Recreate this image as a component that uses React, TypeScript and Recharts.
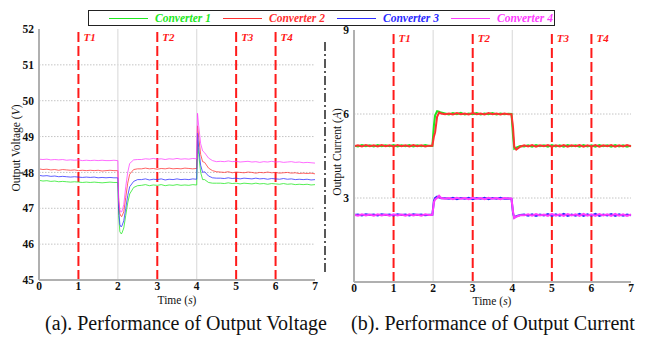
import React from 'react';
import { LineChart, Line, XAxis, YAxis, ReferenceLine } from 'recharts';

const FONT = "'Liberation Serif', 'Times New Roman', serif";

// ---------- Voltage chart data ----------
const voltTime = [
  0, 0.1, 0.2, 0.3, 0.4, 0.5, 0.6, 0.7, 0.8, 0.9, 1.0, 1.1, 1.2, 1.3, 1.4, 1.5, 1.6, 1.7, 1.8, 1.9, 1.99,
  2.0, 2.02, 2.05, 2.08, 2.1, 2.15, 2.2, 2.25, 2.3, 2.4, 2.5,
  2.6, 2.7, 2.8, 2.9, 3.0, 3.1, 3.2, 3.3, 3.4, 3.5, 3.6, 3.7, 3.8, 3.9, 3.99,
  4.0, 4.02, 4.05, 4.1, 4.15, 4.2, 4.3, 4.4, 4.5,
  4.6, 4.7, 4.8, 4.9, 5.0, 5.1, 5.2, 5.3, 5.4, 5.5, 5.6, 5.7, 5.8, 5.9, 6.0, 6.1, 6.2, 6.3, 6.4, 6.5, 6.6, 6.7, 6.8, 6.9, 7.0,
];
const voltConv1 = [
  47.78, 47.76, 47.77, 47.75, 47.76, 47.74, 47.75, 47.74, 47.73, 47.74, 47.73, 47.72, 47.73, 47.72, 47.73, 47.72, 47.71, 47.72, 47.73, 47.72, 47.72,
  47.72, 46.8, 46.35, 46.29, 46.3, 46.45, 46.8, 47.15, 47.4, 47.58, 47.63,
  47.64, 47.66, 47.63, 47.65, 47.64, 47.66, 47.63, 47.65, 47.64, 47.66, 47.64, 47.65, 47.64, 47.66, 47.65,
  47.65, 48.9, 48.5, 48.0, 47.8, 47.8, 47.72, 47.7, 47.7,
  47.70, 47.69, 47.71, 47.69, 47.70, 47.68, 47.70, 47.69, 47.68, 47.70, 47.68, 47.69, 47.67, 47.69, 47.68, 47.67, 47.69, 47.67, 47.68, 47.66, 47.67, 47.66, 47.67, 47.65, 47.66,
];
const voltConv2 = [
  48.10, 48.08, 48.09, 48.07, 48.08, 48.06, 48.08, 48.07, 48.06, 48.07, 48.05, 48.06, 48.05, 48.06, 48.05, 48.06, 48.04, 48.05, 48.06, 48.05, 48.05,
  48.05, 47.3, 46.85, 46.78, 46.77, 46.9, 47.3, 47.7, 47.95, 48.08, 48.1,
  48.10, 48.12, 48.10, 48.11, 48.09, 48.11, 48.10, 48.12, 48.10, 48.11, 48.10, 48.12, 48.11, 48.10, 48.11,
  48.1, 49.3, 49.0, 48.5, 48.3, 48.28, 48.12, 48.05, 48.02,
  48.01, 48.00, 48.02, 47.99, 48.01, 48.00, 47.99, 48.01, 48.00, 47.98, 48.00, 47.99, 48.01, 47.99, 48.00, 47.98, 47.99, 48.00, 47.98, 47.99, 47.97, 47.98, 47.97, 47.98, 47.96,
];
const voltConv3 = [
  47.92, 47.90, 47.91, 47.89, 47.90, 47.88, 47.89, 47.88, 47.87, 47.88, 47.87, 47.86, 47.87, 47.86, 47.87, 47.85, 47.86, 47.85, 47.86, 47.85, 47.85,
  47.85, 47.0, 46.55, 46.48, 46.5, 46.65, 47.0, 47.35, 47.6, 47.75, 47.8,
  47.80, 47.82, 47.79, 47.81, 47.80, 47.82, 47.79, 47.81, 47.80, 47.82, 47.80, 47.81, 47.80, 47.82, 47.81,
  47.81, 49.1, 48.7, 48.2, 48.0, 48.02, 47.9, 47.85, 47.84,
  47.84, 47.83, 47.85, 47.83, 47.84, 47.82, 47.84, 47.83, 47.82, 47.84, 47.82, 47.83, 47.81, 47.83, 47.82, 47.81, 47.83, 47.81, 47.82, 47.80, 47.81, 47.80, 47.81, 47.79, 47.80,
];
const voltConv4 = [
  48.37, 48.36, 48.37, 48.35, 48.36, 48.35, 48.36, 48.34, 48.35, 48.34, 48.35, 48.33, 48.34, 48.33, 48.34, 48.33, 48.34, 48.33, 48.33, 48.34, 48.33,
  48.33, 47.2, 46.95, 46.9, 46.9, 47.1, 47.6, 48.0, 48.25, 48.35, 48.36,
  48.36, 48.38, 48.37, 48.39, 48.37, 48.38, 48.36, 48.38, 48.37, 48.39, 48.37, 48.38, 48.37, 48.39, 48.38,
  48.38, 49.65, 49.3, 48.8, 48.6, 48.55, 48.4, 48.33, 48.3,
  48.31, 48.30, 48.32, 48.30, 48.31, 48.29, 48.30, 48.31, 48.29, 48.30, 48.28, 48.30, 48.29, 48.31, 48.29, 48.30, 48.28, 48.29, 48.30, 48.28, 48.29, 48.27, 48.28, 48.27, 48.26,
];

// ---------- Current chart data ----------
const curTime = [
  0, 0.1, 0.2, 0.3, 0.4, 0.5, 0.6, 0.7, 0.8, 0.9, 1.0, 1.1, 1.2, 1.3, 1.4, 1.5, 1.6, 1.7, 1.8, 1.9,
  1.98, 2.02, 2.05, 2.1, 2.15, 2.2,
  2.3, 2.4, 2.5, 2.6, 2.7, 2.8, 2.9, 3.0, 3.1, 3.2, 3.3, 3.4, 3.5, 3.6, 3.7, 3.8, 3.9,
  3.98, 4.02, 4.05, 4.1, 4.2,
  4.3, 4.4, 4.5, 4.6, 4.7, 4.8, 4.9, 5.0, 5.1, 5.2, 5.3, 5.4, 5.5, 5.6, 5.7, 5.8, 5.9, 6.0, 6.1, 6.2, 6.3, 6.4, 6.5, 6.6, 6.7, 6.8, 6.9, 7.0,
];
const curConv1 = [
  4.87, 4.84, 4.89, 4.85, 4.88, 4.84, 4.89, 4.85, 4.88, 4.85, 4.89, 4.84, 4.88, 4.85, 4.89, 4.84, 4.88, 4.85, 4.89, 4.86,
  4.86, 5.6, 5.95, 6.1, 6.08, 6.05,
  6.02, 5.98, 6.03, 5.99, 6.04, 5.98, 6.02, 5.99, 6.03, 5.98, 6.02, 5.99, 6.03, 5.98, 6.02, 5.99, 6.01,
  6.0, 5.2, 4.76, 4.8, 4.86,
  4.84, 4.88, 4.83, 4.89, 4.85, 4.88, 4.83, 4.89, 4.84, 4.88, 4.83, 4.89, 4.85, 4.88, 4.83, 4.89, 4.84, 4.88, 4.83, 4.89, 4.85, 4.88, 4.83, 4.89, 4.84, 4.88, 4.83, 4.87,
];
const curConv2 = [
  4.85, 4.88, 4.84, 4.89, 4.85, 4.88, 4.84, 4.89, 4.85, 4.88, 4.84, 4.89, 4.85, 4.88, 4.84, 4.89, 4.85, 4.88, 4.84, 4.87,
  4.87, 5.2, 5.35, 5.9, 6.05, 6.02,
  5.99, 6.02, 5.98, 6.03, 5.99, 6.02, 5.98, 6.03, 5.99, 6.02, 5.98, 6.03, 5.99, 6.02, 5.98, 6.02, 5.99,
  5.99, 5.5, 4.83, 4.73, 4.83,
  4.88, 4.84, 4.89, 4.83, 4.88, 4.85, 4.89, 4.83, 4.88, 4.84, 4.89, 4.83, 4.88, 4.85, 4.89, 4.83, 4.88, 4.84, 4.89, 4.83, 4.88, 4.85, 4.89, 4.83, 4.88, 4.84, 4.89, 4.85,
];
const curConv3 = [
  2.39, 2.41, 2.38, 2.42, 2.39, 2.41, 2.38, 2.42, 2.39, 2.41, 2.38, 2.42, 2.39, 2.41, 2.38, 2.42, 2.39, 2.41, 2.38, 2.40,
  2.4, 2.9, 3.0, 3.05, 3.02, 2.99,
  2.99, 2.97, 3.01, 2.96, 3.00, 2.97, 3.01, 2.96, 3.00, 2.97, 3.01, 2.96, 3.00, 2.97, 3.01, 2.97, 2.98,
  2.97, 2.45, 2.3, 2.35, 2.39,
  2.41, 2.37, 2.42, 2.36, 2.41, 2.38, 2.43, 2.36, 2.42, 2.37, 2.43, 2.36, 2.41, 2.37, 2.43, 2.36, 2.42, 2.37, 2.43, 2.36, 2.41, 2.38, 2.43, 2.36, 2.42, 2.37, 2.41, 2.38,
];
const curConv4 = [
  2.40, 2.37, 2.42, 2.38, 2.41, 2.37, 2.42, 2.38, 2.41, 2.37, 2.42, 2.38, 2.41, 2.37, 2.42, 2.38, 2.41, 2.37, 2.42, 2.39,
  2.4, 2.85, 2.95, 3.0, 3.08, 3.0,
  2.97, 3.00, 2.96, 3.01, 2.97, 3.00, 2.96, 3.01, 2.97, 3.00, 2.96, 3.01, 2.97, 3.00, 2.96, 3.00, 2.98,
  2.98, 2.5, 2.28, 2.33, 2.38,
  2.38, 2.42, 2.37, 2.43, 2.38, 2.41, 2.36, 2.43, 2.37, 2.42, 2.36, 2.43, 2.38, 2.42, 2.36, 2.43, 2.37, 2.42, 2.36, 2.43, 2.38, 2.42, 2.36, 2.43, 2.37, 2.42, 2.36, 2.41,
];

// ---------- Shared labels ----------
const seriesNames = ['Converter 1', 'Converter 2', 'Converter 3', 'Converter 4'];
const seriesKeys = ['c1', 'c2', 'c3', 'c4'];
const seriesColors = ['#1ee81e', '#ff3030', '#2a2aff', '#ff3cff'];
const eventTimes = [1, 3, 5, 6];
const eventLabels = ['T1', 'T2', 'T3', 'T4'];
const timeTicks = [0, 1, 2, 3, 4, 5, 6, 7];
const timeGrid = [2, 4];
const voltTicks = [45, 46, 47, 48, 49, 50, 51, 52];
const voltGrid = [46, 47, 48, 49, 50, 51];
const curTicks = [3, 6, 9];
const curGrid = [3, 6];
const captions = ['(a). Performance of Output Voltage', '(b). Performance of Output Current'];

const voltData = voltTime.map((t, i) => ({
  t, c1: voltConv1[i], c2: voltConv2[i], c3: voltConv3[i], c4: voltConv4[i],
}));
const curData = curTime.map((t, i) => ({
  t, c1: curConv1[i], c2: curConv2[i], c3: curConv3[i], c4: curConv4[i],
}));

const EventLabel = (props: any) => {
  const { viewBox, value } = props;
  if (!viewBox) return null;
  return (
    <text x={viewBox.x + 5} y={viewBox.y + 12} fill="#ff1a1a" fontFamily={FONT}
      fontSize={11} fontWeight="bold" fontStyle="italic">{value}</text>
  );
};

const tickStyle = { fontFamily: FONT, fontSize: 11.5, fontWeight: 'bold', fill: '#111' } as any;

function renderCommon(gridY: number[]) {
  return [
    ...gridY.map((y) => (
      <ReferenceLine key={'gy' + y} y={y} stroke="#c4c4c4" strokeDasharray="1.5 1.5" strokeWidth={1} />
    )),
    ...timeGrid.map((x) => (
      <ReferenceLine key={'gx' + x} x={x} stroke="#dedede" strokeWidth={1.2} />
    )),
  ];
}

function renderEvents() {
  return eventTimes.map((x, i) => (
    <ReferenceLine key={'ev' + x} x={x} stroke="#ff1a1a" strokeWidth={2} strokeDasharray="10 4"
      label={<EventLabel value={eventLabels[i]} />} />
  ));
}

const axisLine = { stroke: '#b0b0b0', strokeWidth: 2 };

export default function App() {
  return (
    <div style={{ position: 'absolute', left: 0, top: 0, width: 658, height: 339, background: '#fff', fontFamily: FONT, overflow: 'hidden' }}>
      {/* Voltage chart */}
      <div style={{ position: 'absolute', left: 0, top: 0 }}>
        <LineChart width={330} height={310} data={voltData} margin={{ top: 29, right: 15, bottom: 0, left: 0 }}>
          <XAxis dataKey="t" type="number" domain={[0, 7]} ticks={timeTicks} tickLine={false} tickSize={0}
            tickMargin={2} height={30} axisLine={axisLine} tick={tickStyle} />
          <YAxis type="number" domain={[45, 52]} ticks={voltTicks} tickLine={false} tickSize={0}
            tickMargin={5} width={39} axisLine={axisLine} tick={tickStyle} />
          {renderCommon(voltGrid)}
          {renderEvents()}
          {seriesKeys.map((k, i) => (
            <Line key={k} type="linear" dataKey={k} stroke={seriesColors[i]} strokeWidth={1} strokeOpacity={0.75}
              dot={false} isAnimationActive={false} />
          ))}
        </LineChart>
      </div>
      {/* Current chart */}
      <div style={{ position: 'absolute', left: 330, top: 0 }}>
        <LineChart width={328} height={310} data={curData} margin={{ top: 30, right: 27, bottom: 0, left: 0 }}>
          <XAxis dataKey="t" type="number" domain={[0, 7]} ticks={timeTicks} tickLine={false} tickSize={0}
            tickMargin={2} height={28} axisLine={axisLine} tick={tickStyle} />
          <YAxis type="number" domain={[0, 9]} ticks={curTicks} tickLine={false} tickSize={0}
            tickMargin={5} width={24} axisLine={axisLine} tick={tickStyle} />
          {renderCommon(curGrid)}
          {renderEvents()}
          {[2, 3, 0, 1].map((i) => (
            <Line key={seriesKeys[i]} type="linear" dataKey={seriesKeys[i]} stroke={seriesColors[i]} strokeWidth={2}
              dot={false} isAnimationActive={false} />
          ))}
        </LineChart>
      </div>

      {/* divider dash-dot */}
      <svg style={{ position: 'absolute', left: 320, top: 0 }} width={10} height={300}>
        <line x1={5} y1={42} x2={5} y2={272} stroke="#222" strokeWidth={1.5} strokeDasharray="9 3 2 3" />
      </svg>

      {/* axis titles */}
      <div style={{ position: 'absolute', left: 16, top: 148, transform: 'translate(-50%,-50%) rotate(-90deg)', whiteSpace: 'nowrap', fontSize: 11.5, color: '#111' }}>
        Output Voltage (<i>V</i>)
      </div>
      <div style={{ position: 'absolute', left: 337, top: 152, transform: 'translate(-50%,-50%) rotate(-90deg)', whiteSpace: 'nowrap', fontSize: 11.5, color: '#111' }}>
        Output Current (<i>A</i>)
      </div>
      <div style={{ position: 'absolute', left: 177, top: 300, transform: 'translate(-50%,-50%)', whiteSpace: 'nowrap', fontSize: 11.5, color: '#111' }}>
        Time (<i>s</i>)
      </div>
      <div style={{ position: 'absolute', left: 492, top: 301, transform: 'translate(-50%,-50%)', whiteSpace: 'nowrap', fontSize: 11.5, color: '#111' }}>
        Time (<i>s</i>)
      </div>

      {/* legend */}
      <div style={{ position: 'absolute', left: 88, top: 10, width: 467, height: 16, border: '1.5px solid #222', background: '#fff', display: 'flex', alignItems: 'center', paddingLeft: 20, boxSizing: 'border-box' }}>
        {seriesNames.map((n, i) => (
          <div key={n} style={{ display: 'flex', alignItems: 'center', width: 114, flex: 'none' }}>
            <div style={{ width: 39, height: 0, borderTop: `1.5px solid ${seriesColors[i]}`, marginRight: 7 }} />
            <span style={{ color: seriesColors[i], fontWeight: 'bold', fontStyle: 'italic', fontSize: 11.5, whiteSpace: 'nowrap' }}>{n}</span>
          </div>
        ))}
      </div>

      {/* captions */}
      {captions.map((c, i) => (
        <div key={c} style={{ position: 'absolute', left: i === 0 ? 186 : 493, top: 323, transform: 'translate(-50%,-50%)', whiteSpace: 'nowrap', fontSize: 20, color: '#111' }}>
          {c}
        </div>
      ))}
    </div>
  );
}
